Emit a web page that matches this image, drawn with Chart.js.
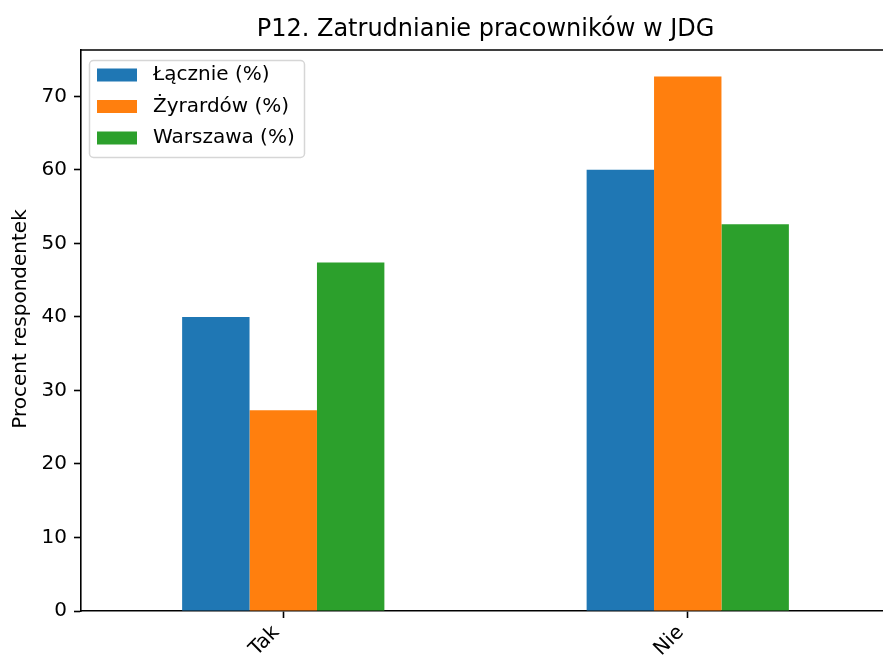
<!DOCTYPE html>
<html><head><meta charset="utf-8">
<script src="https://cdn.jsdelivr.net/npm/chart.js@4.4.0/dist/chart.umd.min.js"></script>
<style>
html,body{margin:0;padding:0;background:#fff;overflow:hidden;width:883px;height:660px}
#wrap{width:890px;height:660px}
</style></head><body>
<div id="wrap"><canvas id="c" width="890" height="660"></canvas></div>
<script>
const categories = ['Tak', 'Nie'];
const seriesNames = ['Łącznie (%)', 'Żyrardów (%)', 'Warszawa (%)'];
const lacznie = [40.0, 60.0];
const zyrardow = [27.3, 72.7];
const warszawa = [47.4, 52.6];
const yTicks = [0, 10, 20, 30, 40, 50, 60, 70];
const colors = ['#1f77b4', '#ff7f0e', '#2ca02c'];
const yLabel = 'Procent respondentek';
const FONT = "'DejaVu Sans', sans-serif";

const legendPlugin = {
  id: 'mplLegend',
  afterDraw(chart) {
    const ctx = chart.ctx;
    ctx.save();
    ctx.beginPath();
    ctx.roundRect(89.5, 60.5, 215, 97, 4);
    ctx.fillStyle = 'rgba(255,255,255,0.8)';
    ctx.fill();
    ctx.strokeStyle = 'rgba(204,204,204,0.8)';
    ctx.lineWidth = 1.5;
    ctx.stroke();
    const rows = [75, 106.5, 138];
    chart.data.datasets.forEach((ds, i) => {
      ctx.fillStyle = ds.backgroundColor;
      ctx.fillRect(97, rows[i] - 6.5, 40, 13);
      ctx.fillStyle = '#000';
      ctx.font = '20px ' + FONT;
      ctx.textBaseline = 'middle';
      ctx.textAlign = 'left';
      ctx.fillText(ds.label, 153, rows[i]);
    });
    ctx.restore();
  }
};

const spinesPlugin = {
  id: 'spines',
  afterDraw(chart) {
    const {ctx, chartArea: a} = chart;
    ctx.save();
    ctx.strokeStyle = '#000';
    ctx.lineWidth = 1.6;
    ctx.beginPath();
    ctx.moveTo(a.left, a.top);
    ctx.lineTo(a.right, a.top);
    ctx.lineTo(a.right, a.bottom);
    ctx.stroke();
    // y-axis label
    ctx.translate(21, 319);
    ctx.rotate(-Math.PI / 2);
    ctx.fillStyle = '#000';
    ctx.font = '20px ' + FONT;
    ctx.textAlign = 'center';
    ctx.textBaseline = 'middle';
    ctx.fillText(yLabel, 0, 0);
    ctx.restore();
  }
};

new Chart(document.getElementById('c'), {
  type: 'bar',
  data: {
    labels: categories,
    datasets: [
      {label: seriesNames[0], data: lacznie, backgroundColor: colors[0]},
      {label: seriesNames[1], data: zyrardow, backgroundColor: colors[1]},
      {label: seriesNames[2], data: warszawa, backgroundColor: colors[2]}
    ]
  },
  options: {
    responsive: false,
    animation: false,
    devicePixelRatio: 1,
    layout: {padding: 0},
    datasets: {bar: {categoryPercentage: 0.5, barPercentage: 1.0, borderWidth: 0}},
    plugins: {
      legend: {display: false},
      tooltip: {enabled: false},
      title: {
        display: true,
        text: 'P12. Zatrudnianie pracowników w JDG',
        fullSize: false,
        color: '#000',
        font: {family: FONT, size: 24, weight: 'normal'},
        padding: {top: 15, bottom: 6.2}
      }
    },
    scales: {
      x: {
        offset: true,
        grid: {display: true, drawOnChartArea: false, offset: false, tickLength: 7, tickWidth: 1.6, tickColor: '#000'},
        border: {display: true, color: '#000', width: 1.6},
        ticks: {color: '#000', font: {family: FONT, size: 20}, maxRotation: 45, minRotation: 45, padding: 3, labelOffset: -7, autoSkip: false},
        afterFit(s) { s.height = 49; }
      },
      y: {
        min: 0,
        max: 76.3,
        afterBuildTicks(s) { s.ticks = yTicks.map(v => ({value: v})); },
        grid: {display: true, drawOnChartArea: false, tickLength: 7, tickWidth: 1.6, tickColor: '#000'},
        border: {display: true, color: '#000', width: 1.6},
        ticks: {color: '#000', font: {family: FONT, size: 20}, padding: 7},
        title: {display: false},
        afterFit(s) { s.width = 81; }
      }
    }
  },
  plugins: [legendPlugin, spinesPlugin]
});
</script>
</body></html>
